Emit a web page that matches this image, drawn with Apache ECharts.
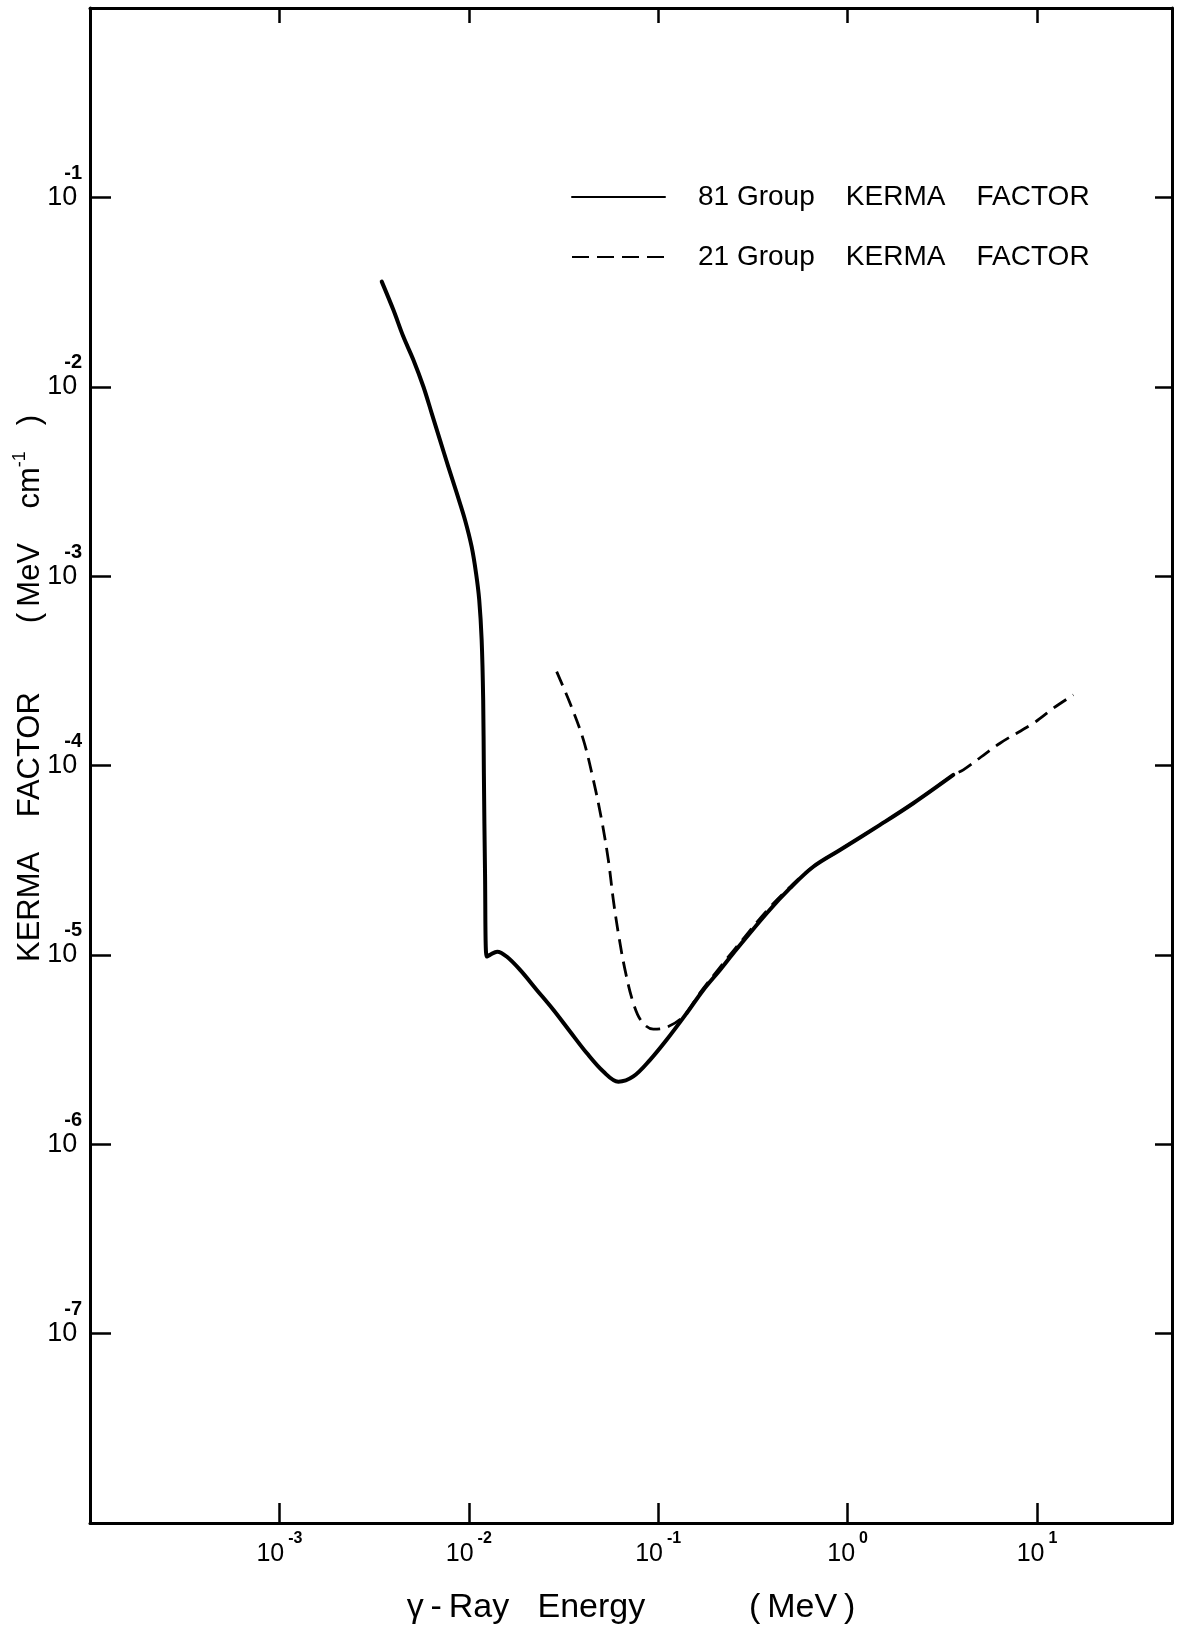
<!DOCTYPE html>
<html>
<head>
<meta charset="utf-8">
<script src="https://cdn.jsdelivr.net/npm/echarts@6/dist/echarts.min.js"></script>
<style>
  html, body { margin: 0; padding: 0; background: #ffffff; }
  #chart { width: 1180px; height: 1630px; }
</style>
</head>
<body>
<div id="chart"></div>
<script>
// ---- data ----
const solidName = '81 Group    KERMA    FACTOR';
const dashedName = '21 Group    KERMA    FACTOR';

// 81 Group KERMA factor: energy (MeV) and kerma factor (MeV cm^-1)
const solidEnergy = [
  3.47e-3, 4.00e-3, 4.51e-3, 5.10e-3, 5.76e-3, 6.37e-3, 7.04e-3, 7.79e-3, 8.64e-3, 9.55e-3,
  1.035e-2, 1.092e-2, 1.135e-2, 1.169e-2, 1.191e-2, 1.201e-2, 1.218e-2, 1.243e-2, 1.294e-2, 1.413e-2,
  1.584e-2, 1.865e-2, 2.284e-2, 2.793e-2, 3.422e-2, 4.194e-2, 5.13e-2, 6.16e-2, 7.39e-2, 9.06e-2,
  0.1108, 0.1413, 0.1731, 0.2120, 0.2492, 0.3741, 0.4964, 0.6586, 0.9110, 1.483,
  2.222, 3.613
];
const solidKerma = [
  3.59e-2, 2.54e-2, 1.84e-2, 1.385e-2, 1.00e-2, 7.24e-3, 5.24e-3, 3.79e-3, 2.74e-3, 1.98e-3,
  1.43e-3, 1.036e-3, 7.49e-4, 4.60e-4, 2.22e-4, 9.1e-5, 2.70e-5, 9.79e-6, 1.00e-5, 1.04e-5,
  9.8e-6, 8.33e-6, 6.53e-6, 5.13e-6, 3.94e-6, 3.03e-6, 2.42e-6, 2.14e-6, 2.28e-6, 2.79e-6,
  3.56e-6, 4.92e-6, 6.53e-6, 8.33e-6, 1.02e-5, 1.66e-5, 2.25e-5, 2.92e-5, 3.58e-5, 4.86e-5,
  6.32e-5, 8.92e-5
];

// 21 Group KERMA factor
const dashedEnergy = [
  2.910e-2, 3.424e-2, 4.024e-2, 4.545e-2, 5.027e-2, 5.453e-2, 5.795e-2, 6.158e-2, 6.68e-2, 7.39e-2,
  8.19e-2, 9.42e-2, 0.1109, 0.1356, 0.1662, 0.2119, 0.2492, 0.3741, 0.4964, 0.6586,
  0.9110, 1.483, 2.222, 3.613, 4.082, 6.376, 9.566, 12.20, 15.55
];
const dashedKerma = [
  3.13e-4, 2.13e-4, 1.37e-4, 8.39e-5, 5.16e-5, 3.17e-5, 1.95e-5, 1.30e-5, 8.33e-6, 5.56e-6,
  4.44e-6, 4.05e-6, 4.15e-6, 4.72e-6, 6.3e-6, 8.6e-6, 1.05e-5, 1.71e-5, 2.28e-5, 2.92e-5,
  3.58e-5, 4.86e-5, 6.32e-5, 8.92e-5, 9.48e-5, 1.311e-4, 1.672e-4, 2.007e-4, 2.359e-4
];

// axes
const xRange = [1e-4, 51.6];
const yRange = [1e-8, 1];
const xTickExponents = [-3, -2, -1, 0, 1];
const yTickExponents = [-1, -2, -3, -4, -5, -6, -7];
const xTitle = '{t|\u03b3\u2009-\u2009Ray   Energy           (\u2009MeV\u2009)}';
const yTitle = '{t|KERMA    FACTOR        (\u2009MeV    cm}{s|-1}{t|   )}';

// ---- chart ----
const FONT = "'Liberation Sans', Arial, sans-serif";
const INK = '#000000';

function zip(a, b) { return a.map((v, i) => [v, b[i]]); }

function powLabel(exps) {
  return function (v) {
    const e = Math.log10(v);
    const r = Math.round(e);
    if (Math.abs(e - r) > 1e-6 || exps.indexOf(r) < 0) return '';
    return '{b|10}{s|' + r + '}';
  };
}

function logAxis(extra) {
  return Object.assign({
    type: 'log',
    logBase: 10,
    splitLine: { show: false },
    minorTick: { show: false },
    minorSplitLine: { show: false },
    axisLine: { show: true, lineStyle: { color: INK, width: 3 } },
  }, extra);
}

const chart = echarts.init(document.getElementById('chart'), null, { renderer: 'canvas' });

chart.setOption({
  animation: false,
  backgroundColor: '#ffffff',
  grid: { left: 90, right: 8, top: 8, bottom: 107, containLabel: false, outerBoundsMode: 'none' },
  legend: {
    left: 571,
    top: 181,
    padding: 0,
    orient: 'vertical',
    itemWidth: 93,
    itemHeight: 14,
    itemGap: 28,
    selectedMode: false,
    itemStyle: { opacity: 0, borderWidth: 0 },
    textStyle: { fontSize: 28, fontFamily: FONT, color: INK, lineHeight: 32, padding: [0, 0, 0, 28] },
    data: [
      { name: solidName },
      { name: dashedName, lineStyle: { type: [17, 8] } }
    ]
  },
  xAxis: [
    logAxis({
      position: 'bottom',
      min: xRange[0], max: xRange[1],
      axisTick: { show: true, inside: true, length: 20, lineStyle: { color: INK, width: 2.5 } },
      axisLabel: {
        margin: 8,
        formatter: powLabel(xTickExponents),
        rich: {
          b: { fontSize: 25, lineHeight: 46, verticalAlign: 'middle', fontFamily: FONT, color: INK, padding: [0, 4, 0, 0] },
          s: { fontSize: 16, verticalAlign: 'top', fontFamily: FONT, color: INK, fontWeight: 'bold' }
        }
      },
      name: xTitle,
      nameLocation: 'middle',
      nameGap: 66,
      nameTextStyle: { rich: { t: { fontSize: 34, fontFamily: FONT, color: INK, lineHeight: 38 } } }
    }),
    logAxis({
      position: 'top',
      min: xRange[0], max: xRange[1],
      axisTick: { show: true, inside: true, length: 15, lineStyle: { color: INK, width: 2.5 } },
      axisLabel: { show: false }
    })
  ],
  yAxis: [
    logAxis({
      position: 'left',
      min: yRange[0], max: yRange[1],
      axisTick: { show: true, inside: true, length: 21, lineStyle: { color: INK, width: 2.5 } },
      axisLabel: {
        margin: 8,
        formatter: powLabel(yTickExponents),
        rich: {
          b: { fontSize: 27, lineHeight: 68, width: 17, align: 'left', verticalAlign: 'middle', fontFamily: FONT, color: INK },
          s: { fontSize: 20, verticalAlign: 'top', fontFamily: FONT, color: INK, fontWeight: 'bold' }
        }
      },
      name: yTitle,
      nameLocation: 'middle',
      nameRotate: 90,
      nameGap: 41,
      nameMoveOverlap: false,
      nameTextStyle: {
        padding: [0, 0, 0, 154],
        rich: {
          t: { fontSize: 31, fontFamily: FONT, color: INK, lineHeight: 38 },
          s: { fontSize: 18, fontFamily: FONT, color: INK, lineHeight: 8, verticalAlign: 'top' }
        }
      }
    }),
    logAxis({
      position: 'right',
      min: yRange[0], max: yRange[1],
      axisTick: { show: true, inside: true, length: 17, lineStyle: { color: INK, width: 2.5 } },
      axisLabel: { show: false }
    })
  ],
  series: [
    {
      name: solidName,
      type: 'line',
      xAxisIndex: 0, yAxisIndex: 0,
      data: zip(solidEnergy, solidKerma),
      showSymbol: false,
      symbol: 'none',
      smooth: 0.35,
      z: 3,
      itemStyle: { color: INK },
      lineStyle: { color: INK, width: 4, type: 'solid', cap: 'round', join: 'round' }
    },
    {
      name: dashedName,
      type: 'line',
      xAxisIndex: 0, yAxisIndex: 0,
      data: zip(dashedEnergy, dashedKerma),
      showSymbol: false,
      symbol: 'none',
      smooth: 0.35,
      z: 2,
      itemStyle: { color: INK },
      lineStyle: { color: INK, width: 2.8, type: [15, 8], cap: 'butt', join: 'round' }
    }
  ]
});
</script>
</body>
</html>
